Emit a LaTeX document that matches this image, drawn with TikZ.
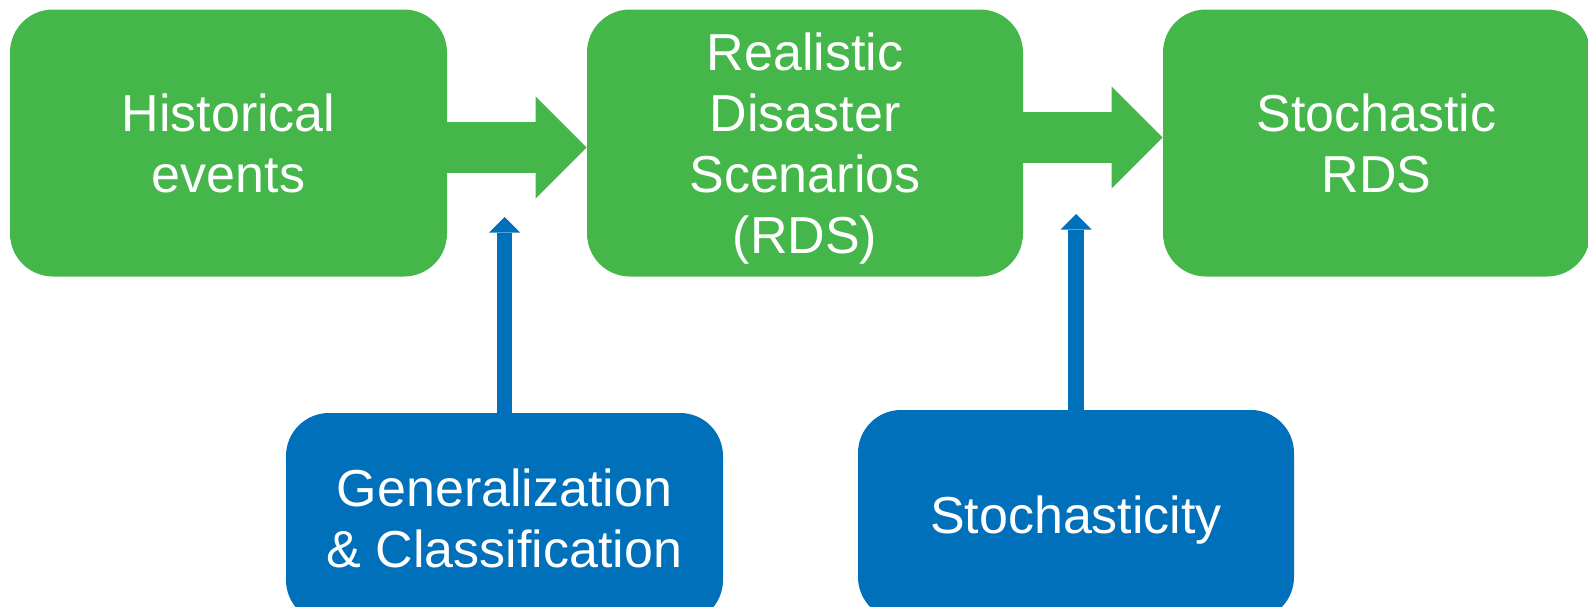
\documentclass[tikz,border=0pt]{standalone}
\usepackage{fontspec}
\setmainfont{Liberation Sans}
\usetikzlibrary{arrows.meta, positioning}
\definecolor{mygreen}{RGB}{68,182,74}
\definecolor{myblue}{RGB}{0,112,186}

\tikzset{
    stagebox/.style={rectangle,rounded corners=21.5pt,fill=mygreen,text=white,inner sep=0pt,
        minimum width=218.5pt,minimum height=133.5pt,align=center,text depth=0pt},
    methodbox/.style={stagebox,fill=myblue,minimum height=105pt},
    bigarrow/.style={mygreen,line width=25.5pt,-{Triangle[length=25.5pt,width=51pt,line width=0pt]}},
    smallarrow/.style={myblue,line width=7.75pt,-{Triangle[length=7.75pt,width=15.5pt,line width=0pt]}}
}

\begin{document}
\begin{tikzpicture}[x=0.5pt,y=-0.5pt,every node/.style={font=\fontsize{26pt}{30.5pt}\selectfont}]
    \useasboundingbox (0,0) rectangle (1588,606);
    % top row
    \node[stagebox] (hist) at (228.5,143) {Historical\\events};
    \node[stagebox,minimum width=218pt] (rds) at (805,143) {Realistic\\Disaster\\Scenarios\\(RDS)};
    \node[stagebox,minimum width=213.5pt] (srds) at (1376.5,143) {Stochastic\\RDS};
    % bottom row
    \node[methodbox] (gen) at (504.5,518) {Generalization\\\& Classification};
    \node[methodbox,minimum width=218pt] (stoch) at (1076,515) {Stochasticity};
    \coordinate (tipA) at (504.5,217);
    \coordinate (tipB) at (1076,214);

    \draw[bigarrow] ([yshift=-2.25pt]hist.east) -- ([yshift=-2.25pt]rds.west);
    \draw[bigarrow] ([yshift=2.75pt]rds.east) -- ([yshift=2.75pt]srds.west);
    \draw[smallarrow] (gen.north) -- (tipA);
    \draw[smallarrow] (stoch.north) -- (tipB);
\end{tikzpicture}
\end{document}
